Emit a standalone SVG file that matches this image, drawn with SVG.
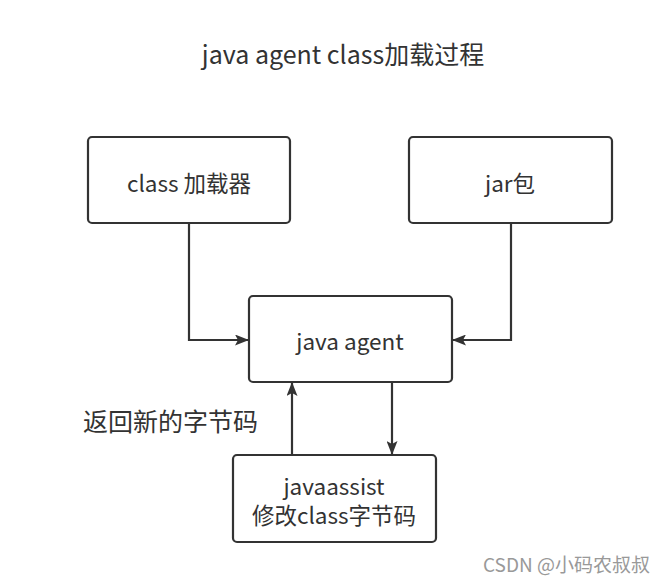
<svg xmlns="http://www.w3.org/2000/svg" width="672" height="581" viewBox="0 0 672 581">
<style>
.box{fill:#fff;stroke:#333;stroke-width:2.2}
.t{font-family:"Microsoft YaHei","Noto Sans CJK SC","Noto Sans",sans-serif;fill:#333;font-size:22.5px;text-anchor:middle;dominant-baseline:central}
.e{fill:none;stroke:#333;stroke-width:2.2}
</style>
<defs>
<marker id="arr" viewBox="0 0 14 11" refX="13" refY="5.5" markerWidth="14" markerHeight="11" markerUnits="userSpaceOnUse" orient="auto">
<path d="M0,0 L14,5.5 L0,11 L3,5.5 Z" fill="#333"/>
</marker>
</defs>
<rect width="672" height="581" fill="#fff"/>
<text class="t" x="343" y="53" style="font-size:25px">java agent class加载过程</text>
<g id="connectors">
<path class="e" d="M189,223 V340 H248" marker-end="url(#arr)"/>
<path class="e" d="M511,223 V340 H453" marker-end="url(#arr)"/>
<path class="e" d="M392,382 V454" marker-end="url(#arr)"/>
<path class="e" d="M292,455 V383" marker-end="url(#arr)"/>
</g>
<g id="classloader">
<rect class="box" x="88" y="137" width="202" height="86" rx="4"/>
<text class="t" x="189" y="182">class 加载器</text>
</g>
<g id="jar">
<rect class="box" x="409" y="137" width="203" height="86" rx="4"/>
<text class="t" x="510" y="182">jar包</text>
</g>
<g id="agent">
<rect class="box" x="249" y="296" width="203" height="86" rx="4"/>
<text class="t" x="350" y="340">java agent</text>
</g>
<g id="javaassist">
<rect class="box" x="233" y="455" width="203" height="87" rx="4"/>
<text class="t" x="334" y="485">javaassist</text>
<text class="t" x="334" y="514">修改class字节码</text>
</g>
<text class="t" x="83" y="420" style="text-anchor:start;font-size:25px">返回新的字节码</text>
<text class="t" x="483" y="563" style="text-anchor:start;font-size:19px;fill:#999">CSDN @小码农叔叔</text>
</svg>
